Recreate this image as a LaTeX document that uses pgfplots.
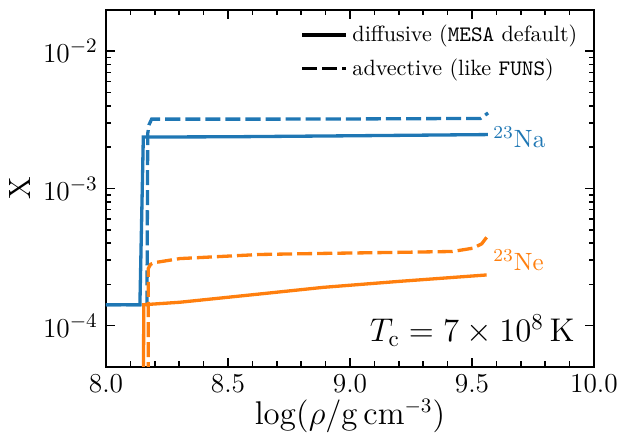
\documentclass[border=0pt]{standalone}
\usepackage{pgfplots}
\pgfplotsset{compat=1.18}
\definecolor{tabblue}{HTML}{1F77B4}
\definecolor{taborange}{HTML}{FF7F0E}
\begin{document}
\begin{tikzpicture}
\begin{axis}[
  scale only axis, width=214pt, height=156.5pt,
  xmin=8, xmax=10, ymin=5e-5, ymax=2e-2, ymode=log,
  xtick={8,8.5,9,9.5,10}, minor x tick num=4,
  ytick={1e-4,1e-3,1e-2},
  xticklabel style={/pgf/number format/.cd, fixed, fixed zerofill, precision=1},
  tick label style={font=\fontsize{13}{15}\selectfont},
  label style={font=\fontsize{13.5}{16}\selectfont},
  xlabel style={yshift=4pt},
  ylabel style={yshift=-1.5pt},
  tick align=inside, xtick pos=both, ytick pos=both,
  major tick length=4pt, minor tick length=2.4pt,
  axis line style={line width=0.9pt},
  every tick/.style={black, line width=0.7pt},
  xlabel={$\log(\rho/\mathrm{g\,cm^{-3}})$},
  ylabel={X},
  legend style={draw=none, fill=none, at={(0.99,0.985)}, anchor=north east,
    font=\fontsize{9.7}{11}\selectfont, row sep=2pt},
  legend cell align=left,
  legend image code/.code={\draw[#1] (0cm,0cm) -- (0.68cm,0cm);},
]
\addlegendimage{black, line width=1.45pt}
\addlegendentry{diffusive (\texttt{MESA} default)}
\addlegendimage{black, line width=1.45pt, dash pattern=on 6.6pt off 2.2pt}
\addlegendentry{advective (like \texttt{FUNS})}

\addplot[forget plot, tabblue, line width=1.45pt] coordinates {
(8.0,1.42e-4) (8.139,1.42e-4) (8.153,2.37e-3) (8.5,2.38e-3) (9.0,2.42e-3) (9.565,2.47e-3)};
\addplot[forget plot, tabblue, line width=1.45pt, dash pattern=on 6.6pt off 2.2pt] coordinates {
(8.0,1.42e-4) (8.168,1.42e-4) (8.171,2.5e-3) (8.176,2.9e-3) (8.187,3.2e-3) (8.6,3.2e-3) (9.0,3.21e-3) (9.535,3.24e-3) (9.566,3.55e-3)};
\addplot[forget plot, taborange, line width=1.45pt] coordinates {
(8.153,3e-5) (8.155,1.42e-4) (8.303,1.48e-4) (8.63,1.70e-4) (8.89,1.90e-4) (9.2,2.10e-4) (9.56,2.34e-4)};
\addplot[forget plot, taborange, line width=1.45pt, dash pattern=on 6.6pt off 2.2pt] coordinates {
(8.173,3e-5) (8.173,2.6e-4) (8.183,2.8e-4) (8.2,2.88e-4) (8.303,3.08e-4) (8.63,3.3e-4) (8.89,3.36e-4) (9.2,3.42e-4) (9.42,3.47e-4) (9.505,3.67e-4) (9.54,3.95e-4) (9.56,4.4e-4)};

\node[anchor=base west, inner sep=0pt, text=tabblue, font=\fontsize{11.4}{14}\selectfont] at (axis cs:9.586,1.99e-3) {$^{23}\mathrm{Na}$};
\node[anchor=base west, inner sep=0pt, text=taborange, font=\fontsize{11.4}{14}\selectfont] at (axis cs:9.586,2.51e-4) {$^{23}\mathrm{Ne}$};
\node[anchor=base east, inner sep=0pt, font=\fontsize{13.9}{16}\selectfont] at (rel axis cs:0.961,0.07) {$T_\mathrm{c} = 7\times10^{8}\,\mathrm{K}$};
\coordinate (bbl) at (rel axis cs:-0.2172,-0.1877);
\coordinate (btr) at (rel axis cs:1.0533,1.028);
\end{axis}
\pgfresetboundingbox
\path[use as bounding box] (bbl) rectangle (btr);
\end{tikzpicture}
\end{document}
